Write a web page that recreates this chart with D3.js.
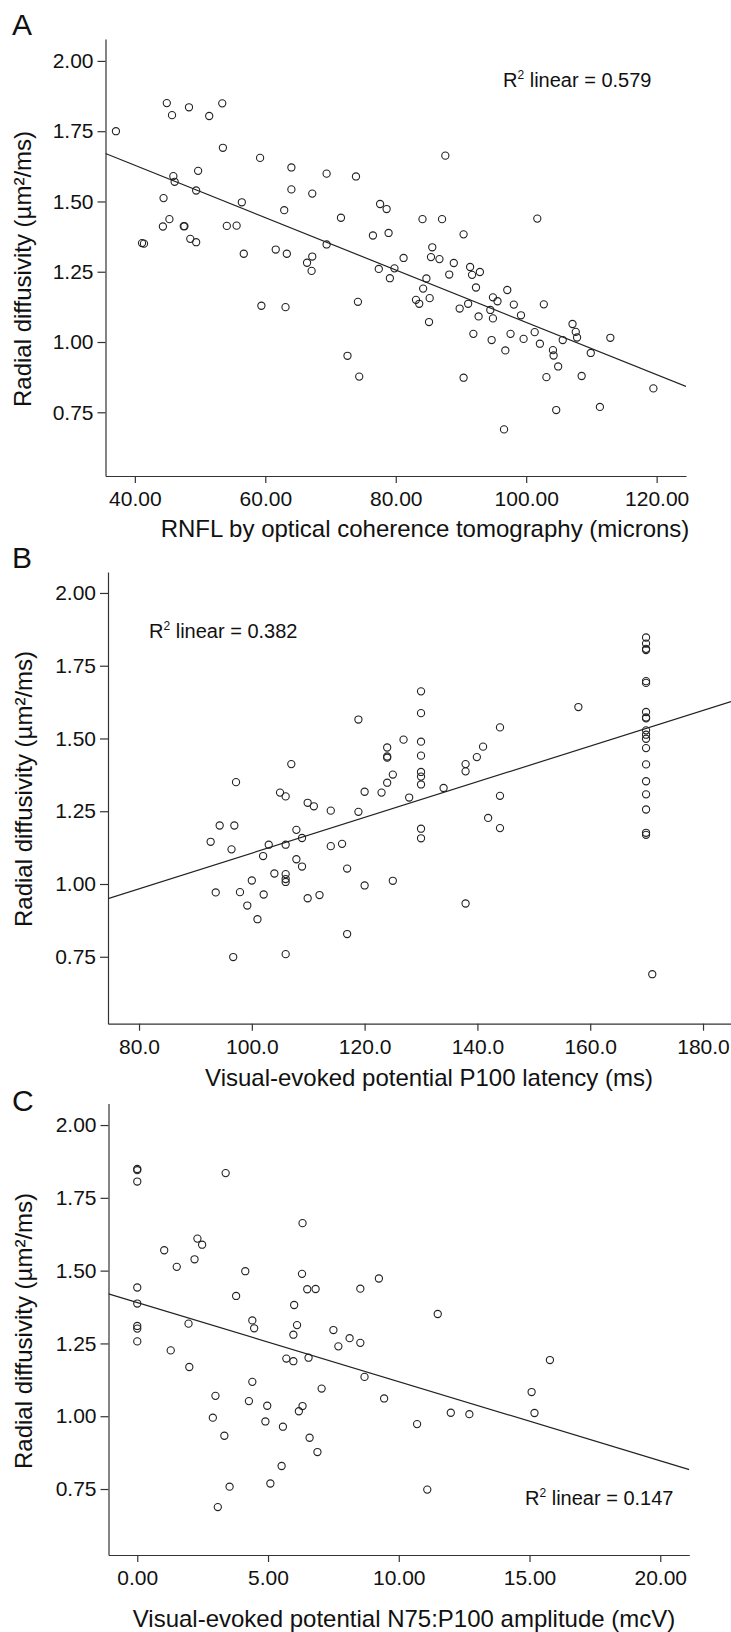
<!DOCTYPE html>
<html>
<head>
<meta charset="utf-8">
<script src="https://cdn.jsdelivr.net/npm/d3@7"></script>
<style>
  body { margin: 0; background: #fff; }
  svg text { font-family: "Liberation Sans", Arial, sans-serif; fill: #111; }
</style>
</head>
<body>
<div class="chart"></div>
<script>
// Panel A: RNFL thickness (OCT) vs radial diffusivity
const rnflX = [37.1, 44.9, 45.7, 48.3, 51.4, 53.4, 53.5, 59.2, 64.0, 64.0, 67.2, 69.4, 73.9, 87.6,
  45.9, 46.1, 49.7, 49.4, 44.4, 45.3, 44.3, 47.5, 47.6, 48.5, 49.4, 41.1, 41.4, 54.1, 55.6, 56.4,
  56.7, 59.4, 61.6, 62.9, 63.3, 63.1, 66.4, 67.2, 67.1, 69.4, 71.6, 72.6, 74.2, 74.4, 76.5, 77.6,
  78.6, 78.9, 77.4, 79.8, 79.1, 81.2, 83.1, 83.6, 84.2, 84.7, 85.2, 85.1, 84.1, 85.4, 85.6, 86.7,
  87.1, 88.2, 88.9, 90.4, 89.8, 90.4, 91.1, 91.4, 91.7, 92.9, 92.3, 92.7, 91.9, 94.7, 94.5, 94.9,
  94.9, 95.6, 96.8, 96.6, 97.1, 97.6, 98.1, 99.2, 99.6, 101.3, 101.7, 102.1, 102.7, 103.1, 104.1,
  104.2, 104.9, 104.6, 105.6, 107.1, 107.6, 107.8, 108.5, 109.9, 111.3, 112.9, 119.5];
const rnflRD = [1.750, 1.850, 1.807, 1.835, 1.804, 1.849, 1.691, 1.655, 1.621, 1.543, 1.528, 1.599, 1.589, 1.663,
  1.590, 1.570, 1.609, 1.539, 1.512, 1.437, 1.411, 1.412, 1.412, 1.367, 1.355, 1.352, 1.350, 1.413, 1.414, 1.497,
  1.314, 1.129, 1.329, 1.469, 1.314, 1.124, 1.282, 1.304, 1.253, 1.347, 1.442, 0.951, 1.143, 0.877, 1.379, 1.491,
  1.473, 1.388, 1.260, 1.262, 1.227, 1.299, 1.150, 1.136, 1.190, 1.226, 1.156, 1.071, 1.437, 1.302, 1.337, 1.295,
  1.437, 1.240, 1.281, 1.383, 1.119, 0.873, 1.136, 1.267, 1.239, 1.249, 1.194, 1.091, 1.029, 1.007, 1.114, 1.159,
  1.084, 1.145, 0.970, 0.689, 1.185, 1.029, 1.133, 1.095, 1.011, 1.035, 1.439, 0.994, 1.134, 0.875, 0.971,
  0.952, 0.913, 0.758, 1.007, 1.064, 1.036, 1.016, 0.879, 0.961, 0.769, 1.015, 0.835];

// Panel B: VEP P100 latency vs radial diffusivity
const latencyX = [92.7, 93.6, 94.3, 96.4, 96.9, 97.2, 96.7, 97.9, 99.2, 100.0, 101.0, 102.0, 102.1, 103.0,
  104.0, 105.0, 106.0, 106.0, 106.0, 106.0, 106.0, 106.0, 107.0, 107.9, 107.9, 108.9, 108.9, 109.9, 109.9,
  111.0, 112.0, 114.0, 114.0, 116.0, 116.9, 116.9, 118.9, 118.9, 120.0, 120.0, 123.0, 124.0, 124.0, 124.0,
  124.0, 125.0, 125.0, 126.9, 127.9, 130.0, 130.0, 130.0, 130.0, 130.0, 130.0, 130.0, 130.0, 130.0, 134.0,
  137.9, 137.9, 137.9, 139.9, 141.0, 141.9, 144.0, 144.0, 144.0, 157.9,
  169.9, 169.9, 169.9, 169.9, 169.9, 169.9, 169.9, 169.9, 169.9, 169.9, 169.9, 169.9, 169.9, 169.9, 169.9,
  169.9, 169.9, 169.9, 169.9, 171.0];
const latencyRD = [1.145, 0.971, 1.201, 1.119, 1.201, 1.350, 0.749, 0.972, 0.926, 1.012, 0.879, 1.096, 0.964, 1.135,
  1.036, 1.314, 1.301, 1.135, 1.034, 1.017, 1.007, 0.759, 1.412, 1.186, 1.085, 1.158, 1.060, 1.279, 0.951,
  1.267, 0.962, 1.252, 1.130, 1.138, 1.053, 0.828, 1.565, 1.248, 1.317, 0.995, 1.314, 1.469, 1.438, 1.434,
  1.348, 1.376, 1.011, 1.496, 1.297, 1.662, 1.587, 1.489, 1.441, 1.385, 1.369, 1.342, 1.190, 1.157, 1.330,
  1.412, 1.387, 0.933, 1.436, 1.472, 1.227, 1.538, 1.303, 1.192, 1.608,
  1.847, 1.826, 1.808, 1.804, 1.697, 1.691, 1.591, 1.572, 1.569, 1.528, 1.513, 1.499, 1.467, 1.411, 1.353,
  1.308, 1.256, 1.176, 1.169, 0.690];

// Panel C: VEP N75:P100 amplitude vs radial diffusivity
const amplitudeX = [0, 0, 0, 0, 0, 0, 0, 0, 1.03, 1.28, 1.51, 1.96, 1.99, 2.19, 2.30, 2.48, 2.89, 2.99, 3.08,
  3.33, 3.38, 3.53, 3.78, 4.13, 4.27, 4.40, 4.47, 4.40, 4.90, 4.97, 5.09, 5.52, 5.57, 5.70, 5.97, 5.97, 6.00,
  6.11, 6.18, 6.32, 6.30, 6.32, 6.50, 6.55, 6.59, 6.82, 6.89, 7.05, 7.50, 7.69, 8.12, 8.53, 8.53, 8.69, 9.24,
  9.44, 10.70, 11.09, 11.49, 11.99, 12.70, 15.08, 15.19, 15.78];
const amplitudeRD = [1.849, 1.845, 1.806, 1.442, 1.387, 1.310, 1.301, 1.257, 1.570, 1.226, 1.513, 1.318, 1.169,
  1.539, 1.610, 1.589, 0.995, 1.070, 0.688, 0.933, 1.835, 0.758, 1.413, 1.498, 1.052, 1.329, 1.302, 1.118,
  0.982, 1.036, 0.769, 0.829, 0.964, 1.198, 1.189, 1.280, 1.382, 1.313, 1.017, 1.035, 1.489, 1.663, 1.436,
  1.201, 0.926, 1.437, 0.877, 1.095, 1.296, 1.240, 1.268, 1.438, 1.252, 1.135, 1.473, 1.061, 0.973, 0.748,
  1.351, 1.012, 1.007, 1.083, 1.011, 1.193];

// Fit lines as [intercept, slope]
const fitA = [2.001, -0.00931];
const fitB = [0.4935, 0.006127];
const fitC = [1.3904, -0.02717];

const r2Labels = ["0.579", "0.382", "0.147"];
const xTitles = ["RNFL by optical coherence tomography (microns)",
  "Visual-evoked potential P100 latency (ms)",
  "Visual-evoked potential N75:P100 amplitude (mcV)"];
const yTitle = "Radial diffusivity (\u00b5m\u00b2/ms)";
const panelLetters = ["A", "B", "C"];
const xTicksA = [40, 60, 80, 100, 120];
const xTicksB = [80, 100, 120, 140, 160, 180];
const xTicksC = [0, 5, 10, 15, 20];
const yTicks = [0.75, 1.00, 1.25, 1.50, 1.75, 2.00];

const width = 731, height = 1632;
const svg = d3.select(".chart").append("svg")
  .attr("width", width)
  .attr("height", height)
  .attr("viewBox", [0, 0, width, height]);

// Panel geometry in pixels (layout only)
const panels = [
  { x: rnflX, y: rnflRD, fit: fitA, xTicks: xTicksA, fmt: ".2f",
    xDomain: [35.5, 124.5], yDomain: [0.5233, 2.078],
    left: 105.5, right: 686, top: 39, bottom: 476,
    letterY: 35, r2: { x: 503, y: 87, anchor: "start" },
    xTitle: { x: 425, y: 537 }, yTitle: { x: 23, y: 269 } },
  { x: latencyX, y: latencyRD, fit: fitB, xTicks: xTicksB, fmt: ".1f",
    xDomain: [74.5, 184.96], yDomain: [0.520, 2.072],
    left: 108, right: 731, top: 572, bottom: 1023.7,
    letterY: 568, r2: { x: 149, y: 638, anchor: "start" },
    xTitle: { x: 429, y: 1086 }, yTitle: { x: 24, y: 789 } },
  { x: amplitudeX, y: amplitudeRD, fit: fitC, xTicks: xTicksC, fmt: ".2f",
    xDomain: [-1.10, 21.11], yDomain: [0.5234, 2.074],
    left: 108.5, right: 689.3, top: 1103.5, bottom: 1555,
    letterY: 1111, r2: { x: 673.5, y: 1504.5, anchor: "end" },
    xTitle: { x: 404, y: 1627 }, yTitle: { x: 24, y: 1331 } }
];

panels.forEach((p, i) => {
  const xScale = d3.scaleLinear().domain(p.xDomain).range([p.left, p.right]);
  const yScale = d3.scaleLinear().domain(p.yDomain).range([p.bottom, p.top]);
  const g = svg.append("g");

  // Axes
  const xAxis = g.append("g")
    .attr("transform", `translate(0,${p.bottom})`)
    .call(d3.axisBottom(xScale).tickValues(p.xTicks).tickFormat(d3.format(p.fmt))
      .tickSizeInner(7).tickSizeOuter(0).tickPadding(8));
  const yAxis = g.append("g")
    .attr("transform", `translate(${p.left},0)`)
    .call(d3.axisLeft(yScale).tickValues(yTicks).tickFormat(d3.format(".2f"))
      .tickSizeInner(8).tickSizeOuter(0).tickPadding(4));
  [xAxis, yAxis].forEach(a => {
    a.select(".domain").attr("stroke", "#333").attr("stroke-width", 1.2);
    a.selectAll(".tick line").attr("stroke", "#333").attr("stroke-width", 1.2);
    a.selectAll(".tick text").attr("font-size", 21).attr("fill", "#111")
      .style("font-family", '"Liberation Sans", Arial, sans-serif');
  });

  // Clip for the fit line
  const clipId = `clip${i}`;
  g.append("clipPath").attr("id", clipId)
    .append("rect")
    .attr("x", p.left).attr("y", p.top)
    .attr("width", p.right - p.left).attr("height", p.bottom - p.top);

  const fitLine = d3.line()
    .x(d => xScale(d))
    .y(d => yScale(p.fit[0] + p.fit[1] * d));
  g.append("path")
    .datum(p.xDomain)
    .attr("clip-path", `url(#${clipId})`)
    .attr("d", fitLine)
    .attr("fill", "none")
    .attr("stroke", "#222")
    .attr("stroke-width", 1.2);

  // Points
  g.append("g").selectAll("circle")
    .data(d3.range(p.x.length))
    .join("circle")
    .attr("cx", j => xScale(p.x[j]))
    .attr("cy", j => yScale(p.y[j]))
    .attr("r", 3.6)
    .attr("fill", "none")
    .attr("stroke", "#222")
    .attr("stroke-width", 1.1);

  // R² annotation
  const r2 = g.append("text")
    .attr("x", p.r2.x).attr("y", p.r2.y)
    .attr("text-anchor", p.r2.anchor)
    .attr("font-size", 20);
  r2.append("tspan").text("R");
  r2.append("tspan").attr("font-size", 12).attr("dy", -8).text("2");
  r2.append("tspan").attr("dy", 8).text(` linear = ${r2Labels[i]}`);

  // Axis titles
  g.append("text")
    .attr("x", p.xTitle.x).attr("y", p.xTitle.y)
    .attr("text-anchor", "middle")
    .attr("font-size", 24)
    .text(xTitles[i]);
  g.append("text")
    .attr("transform", `translate(${p.yTitle.x},${p.yTitle.y}) rotate(-90)`)
    .attr("text-anchor", "middle")
    .attr("dy", "0.35em")
    .attr("font-size", 24)
    .text(yTitle);

  // Panel letter
  g.append("text")
    .attr("x", 12).attr("y", p.letterY)
    .attr("font-size", 30)
    .text(panelLetters[i]);
});
</script>
</body>
</html>
